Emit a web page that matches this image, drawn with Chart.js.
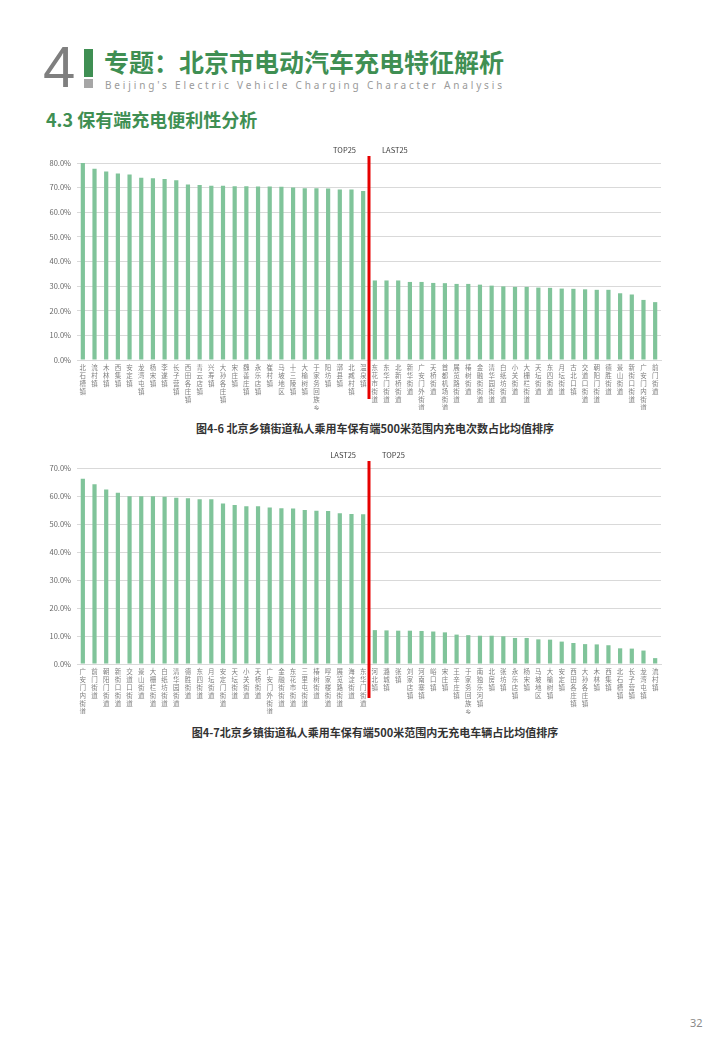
<!DOCTYPE html>
<html>
<head>
<meta charset="utf-8">
<script src="https://cdn.jsdelivr.net/npm/chart.js@4.4.0/dist/chart.umd.min.js"></script>
<style>
  body { margin: 0; width: 720px; height: 1040px; background: #fff; position: relative; font-family: "Noto Sans CJK SC", "Noto Sans", sans-serif; overflow: hidden; }
  .abs { position: absolute; }
  #bigNum { left: 43px; top: 38px; font-size: 58px; line-height: 1; color: #7f7f7f; font-family: "Liberation Sans", sans-serif; font-weight: 400; }
  #barG { left: 84px; top: 49px; width: 9px; height: 28px; background: #3f8f53; }
  #barY { left: 84px; top: 79px; width: 9px; height: 9px; background: #a6a6a6; }
  #title { left: 104px; top: 44px; font-size: 25px; font-weight: 700; color: #3f8f53; line-height: 34px; }
  #sub { left: 105px; top: 78px; font-size: 10px; letter-spacing: 2.85px; color: #9a9a9a; font-family: "Noto Sans", sans-serif; line-height: 14px; }
  #sec { left: 46px; top: 107px; font-size: 18px; font-weight: 700; color: #3f8f53; line-height: 24px; }
  .cap { left: 0; width: 750px; text-align: center; font-size: 11px; font-weight: 700; color: #333; line-height: 14px; }
  #page { left: 690px; top: 1015px; font-size: 11px; color: #8a8a8a; font-family: "Noto Sans", sans-serif; }
  .box { left: 40px; width: 625px; }
</style>
</head>
<body>
<div id="bigNum" class="abs">4</div>
<div id="barG" class="abs"></div>
<div id="barY" class="abs"></div>
<div id="title" class="abs">专题：北京市电动汽车充电特征解析</div>
<div id="sub" class="abs">Beijing's Electric Vehicle Charging Character Analysis</div>
<div id="sec" class="abs">4.3 保有端充电便利性分析</div>

<div class="abs box" style="top:145px;height:265px;"><canvas id="chart1"></canvas></div>
<div class="abs cap" style="top:421px;">图4-6 北京乡镇街道私人乘用车保有端500米范围内充电次数占比均值排序</div>

<div class="abs box" style="top:450px;height:264px;"><canvas id="chart2"></canvas></div>
<div class="abs cap" style="top:725px;">图4-7北京乡镇街道私人乘用车保有端500米范围内无充电车辆占比均值排序</div>

<div id="page" class="abs">32</div>

<script>
// 图4-6 充电次数占比
var towns1 = ['北石槽镇', '流村镇', '木林镇', '西集镇', '安定镇', '龙湾屯镇', '杨宋镇', '李遂镇', '长子营镇', '西田各庄镇',
  '青云店镇', '兴寿镇', '大孙各庄镇', '宋庄镇', '魏善庄镇', '永乐店镇', '崔村镇', '马坡地区', '十三陵镇', '大榆树镇',
  '于家务回族乡', '阳坊镇', '漷县镇', '北臧村镇', '温泉镇',
  '东花市街道', '东华门街道', '北新桥街道', '新华街道', '广安门外街道', '天桥街道', '首都机场街道', '展览路街道', '椿树街道', '金融街街道',
  '清华园街道', '白纸坊街道', '小关街道', '大栅栏街道', '天坛街道', '东四街道', '月坛街道', '古北口镇', '交道口街道', '朝阳门街道',
  '德胜街道', '景山街道', '新街口街道', '广安门内街道', '前门街道'];
var values1 = [80.0, 77.7, 76.5, 75.7, 75.3, 74.0, 73.8, 73.5, 73.0, 71.3,
  71.1, 70.8, 70.8, 70.6, 70.6, 70.5, 70.5, 70.4, 70.1, 69.7,
  69.7, 69.6, 69.2, 69.2, 68.6,
  32.3, 32.3, 32.3, 31.7, 31.7, 31.3, 31.2, 30.9, 30.9, 30.6,
  30.2, 29.9, 29.7, 29.7, 29.4, 29.3, 29.0, 28.9, 28.7, 28.5,
  28.5, 27.1, 26.6, 24.4, 23.5];

// 图4-7 无充电车辆占比
var towns2 = ['广安门内街道', '前门街道', '朝阳门街道', '新街口街道', '交道口街道', '景山街道', '大栅栏街道', '白纸坊街道', '清华园街道', '德胜街道',
  '东四街道', '月坛街道', '安定门街道', '天坛街道', '小关街道', '天桥街道', '广安门外街道', '金融街街道', '东花市街道', '三里屯街道',
  '椿树街道', '呼家楼街道', '展览路街道', '海淀街道', '东华门街道',
  '河北镇', '潞城镇', '张镇', '刘家店镇', '河南寨镇', '峪口镇', '宋庄镇', '王辛庄镇', '于家务回族乡', '南独乐河镇',
  '北房镇', '张坊镇', '永乐店镇', '杨宋镇', '马坡地区', '大榆树镇', '安定镇', '西田各庄镇', '大孙各庄镇', '木林镇',
  '西集镇', '北石槽镇', '长子营镇', '龙湾屯镇', '流村镇'];
var values2 = [66.2, 64.2, 62.3, 61.2, 59.9, 59.9, 59.9, 59.7, 59.4, 59.2,
  58.8, 58.8, 57.3, 56.8, 56.3, 56.3, 55.9, 55.6, 55.5, 55.0,
  54.7, 54.6, 53.8, 53.6, 53.5,
  12.1, 12.0, 11.9, 11.9, 11.8, 11.6, 11.3, 10.5, 10.3, 10.1,
  10.1, 9.9, 9.3, 9.3, 8.8, 8.7, 8.0, 7.5, 7.1, 7.0,
  6.7, 5.6, 5.5, 4.8, 2.1];

var yTicks1 = [0, 80];
var yTicks2 = [0, 70];
var groupLabels1 = ['TOP25', 'LAST25'];
var groupLabels2 = ['LAST25', 'TOP25'];
var splitAt = 25;

var barColor = '#80c49a';
var labelFont = '"Noto Sans CJK SC", sans-serif';

// red divider line between the two groups
var dividerPlugin = {
  id: 'divider',
  afterDatasetsDraw: function (chart, args, opts) {
    var ctx = chart.ctx;
    var xs = chart.scales.x;
    var area = chart.chartArea;
    var px = (xs.getPixelForValue(opts.index - 1) + xs.getPixelForValue(opts.index)) / 2;
    ctx.save();
    ctx.strokeStyle = '#e60000';
    ctx.lineWidth = 3;
    ctx.beginPath();
    ctx.moveTo(px, area.top - 7);
    ctx.lineTo(px, area.bottom + opts.below);
    ctx.stroke();
    ctx.fillStyle = '#404040';
    ctx.font = '7.5px ' + labelFont;
    ctx.textBaseline = 'middle';
    ctx.textAlign = 'right';
    ctx.fillText(opts.left, px - 13, area.top - 13);
    ctx.textAlign = 'left';
    ctx.fillText(opts.right, px + 13, area.top - 13);
    ctx.restore();
  }
};

function makeChart(id, labels, values, yRange, groups, below) {
  var ctx = document.getElementById(id).getContext('2d');
  return new Chart(ctx, {
    type: 'bar',
    data: {
      labels: labels,
      datasets: [{
        data: values,
        backgroundColor: barColor,
        barPercentage: 0.36,
        categoryPercentage: 1.0
      }]
    },
    options: {
      responsive: true,
      maintainAspectRatio: false,
      animation: false,
      layout: { padding: { top: 18, right: 4, left: 0, bottom: 0 } },
      plugins: {
        legend: { display: false },
        tooltip: { enabled: false },
        divider: { index: splitAt, left: groups[0], right: groups[1], below: below }
      },
      scales: {
        x: {
          grid: { display: false, drawTicks: false },
          border: { color: '#d9d9d9' },
          afterFit: function (scale) { scale.height = 50; },
          ticks: {
            autoSkip: false,
            maxRotation: 0,
            minRotation: 0,
            padding: 4,
            color: '#7f7f7f',
            font: { size: 6.5, family: labelFont, lineHeight: 1.22 },
            callback: function (value) { return this.getLabelForValue(value).split(''); }
          }
        },
        y: {
          min: yRange[0],
          max: yRange[1],
          afterFit: function (scale) { scale.width = 37; },
          grid: { color: '#d9d9d9', drawTicks: false },
          border: { display: false },
          ticks: {
            stepSize: 10,
            padding: 6,
            color: '#666',
            font: { size: 7.5, family: labelFont },
            callback: function (v) { return v.toFixed(1) + '%'; }
          }
        }
      }
    },
    plugins: [dividerPlugin]
  });
}

var chart1 = makeChart('chart1', towns1, values1, yTicks1, groupLabels1, 39);
var chart2 = makeChart('chart2', towns2, values2, yTicks2, groupLabels2, 34);
</script>
</body>
</html>
